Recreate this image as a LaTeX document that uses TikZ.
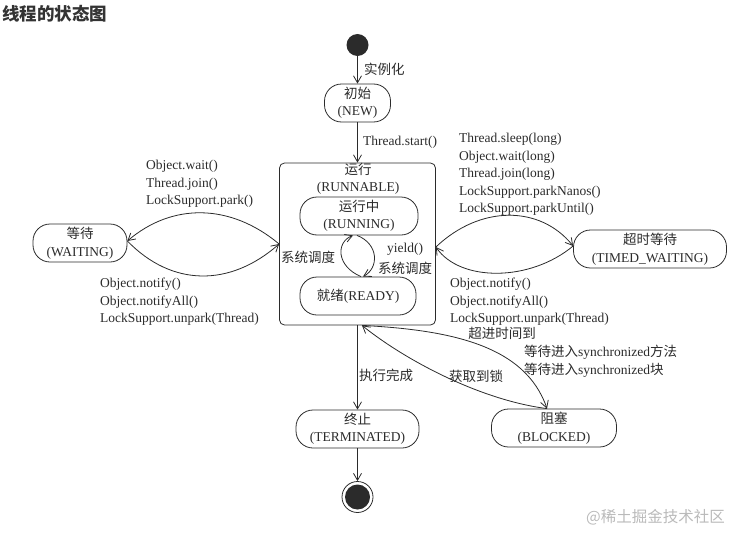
\documentclass[tikz,border=0pt]{standalone}
\usepackage{fontspec}
\setmainfont{Liberation Serif}
\newfontfamily\cjk{Noto Sans CJK SC}
\newcommand\zh[1]{{\cjk #1}}
\usetikzlibrary{arrows.meta}
\definecolor{ink}{HTML}{2B2B2B}
\definecolor{titleink}{HTML}{333333}
\begin{document}
\begin{tikzpicture}[x=1pt,y=-1pt,
  txt/.style={font=\fontsize{13.5}{17.5}\selectfont, text=ink, inner sep=0pt},
  pill/.style={txt, draw=ink, line width=0.8pt, rounded corners=17pt, minimum height=38pt, align=center},
  arr/.style={draw=ink, line width=0.8pt, -{Straight Barb[length=7pt,width=8pt]}},
  lbl/.style={txt, align=left, anchor=north west},
  lblw/.style={txt, anchor=west}]
\useasboundingbox (0,0) rectangle (743,543);

% title
\node[font=\cjk\bfseries\fontsize{17.5}{20}\selectfont, text=titleink, anchor=west, inner sep=0pt] (title) at (2,14) {线程的状态图};

% states
\node[circle, fill=ink, minimum size=22pt, inner sep=0pt] (start) at (357.5,45) {};
\node[pill, minimum width=66pt] (new) at (357.5,103) {\zh{初始}\\(NEW)};
\node[draw=ink, line width=0.8pt, rounded corners=5pt, minimum width=156pt, minimum height=162pt, inner sep=0pt] (runnable) at (357.5,244) {};
\node[txt, align=center] (runlbl) at (358,179) {\zh{运行}\\(RUNNABLE)};
\node[pill, minimum width=118pt] (running) at (359,216) {\zh{运行中}\\(RUNNING)};
\node[pill, minimum width=116pt] (ready) at (358,296) {\zh{就绪}(READY)};
\node[pill, minimum width=94pt] (waiting) at (80,243) {\zh{等待}\\(WAITING)};
\node[pill, minimum width=153pt] (timed) at (650,249) {\zh{超时等待}\\(TIMED\_WAITING)};
\node[pill, minimum width=123pt] (term) at (357.5,429) {\zh{终止}\\(TERMINATED)};
\node[pill, minimum width=125pt] (blocked) at (554,428) {\zh{阻塞}\\(BLOCKED)};
\node[circle, draw=ink, line width=0.8pt, minimum size=31pt, inner sep=0pt] (end) at (357.5,497) {};
\fill[ink] (end.center) circle (12.5pt);

% start -> new -> runnable
\draw[arr] (start.south) -- (new.north);
\node[lblw] (l-inst) at (364,69) {\zh{实例化}};
\draw[arr] (new.south) -- (runnable.north);
\node[lblw] (l-start) at (363,142) {Thread.start()};

% running <-> ready loop
\draw[arr] ([xshift=3pt]ready.north) .. controls (336,266) and (336,242) .. ([xshift=-6pt]running.south);
\draw[arr] ([xshift=-2pt]running.south) .. controls (379,244) and (379,268) .. ([xshift=5pt]ready.north);
\node[txt] (l-sch1) at (308,257) {\zh{系统调度}};
\node[txt] (l-yield) at (405,249) {yield()};
\node[txt] (l-sch2) at (405,268) {\zh{系统调度}};

% runnable <-> waiting
\draw[arr] (runnable.west) .. controls (230,203) and (172,203) .. ([yshift=2pt]waiting.east);
\draw[arr] ([yshift=2pt]waiting.east) .. controls (172,287) and (230,287) .. (runnable.west);
\node[lbl] (l-wait) at (146,160) {Object.wait()\\Thread.join()\\LockSupport.park()};
\node[lbl] (l-notify) at (100,278) {Object.notify()\\Object.notifyAll()\\LockSupport.unpark(Thread)};

% runnable <-> timed waiting
\draw[arr] ([yshift=-3pt]runnable.east) .. controls (480,205) and (540,205) .. ([yshift=3pt]timed.west);
\draw[arr] ([yshift=3pt]timed.west) .. controls (530,282) and (460,282) .. ([yshift=-3pt]runnable.east);
\node[lbl] (l-sleep) at (459,133) {Thread.sleep(long)\\Object.wait(long)\\Thread.join(long)\\LockSupport.parkNanos()\\LockSupport.parkUntil()};
\node[lbl] (l-tnotify) at (450,278) {Object.notify()\\Object.notifyAll()\\LockSupport.unpark(Thread)};

% runnable -> terminated -> end
\draw[arr] (runnable.south) -- (term.north);
\node[txt] (l-done) at (386,375) {\zh{执行完成}};
\draw[arr] (term.south) -- (end.north);

% runnable <-> blocked
\draw[arr] ([xshift=4.5pt]runnable.south) .. controls (450,330) and (525,345) .. ([xshift=-7pt]blocked.north);
\draw[arr] ([xshift=-7pt]blocked.north) .. controls (480,400) and (405,360) .. ([xshift=4.5pt]runnable.south);
\node[txt] (l-timeout) at (502,333) {\zh{超进时间到}};
\node[lblw] (l-sync1) at (524,352) {\zh{等待进入}synchronized\zh{方法}};
\node[lblw] (l-sync2) at (524,370) {\zh{等待进入}synchronized\zh{块}};
\node[txt] (l-lock) at (476,376) {\zh{获取到锁}};

% watermark
\node[font=\cjk\fontsize{15.5}{18}\selectfont, text=black!27, anchor=west, inner sep=0pt] (wm) at (586,517) {@稀土掘金技术社区};
\end{tikzpicture}
\end{document}
